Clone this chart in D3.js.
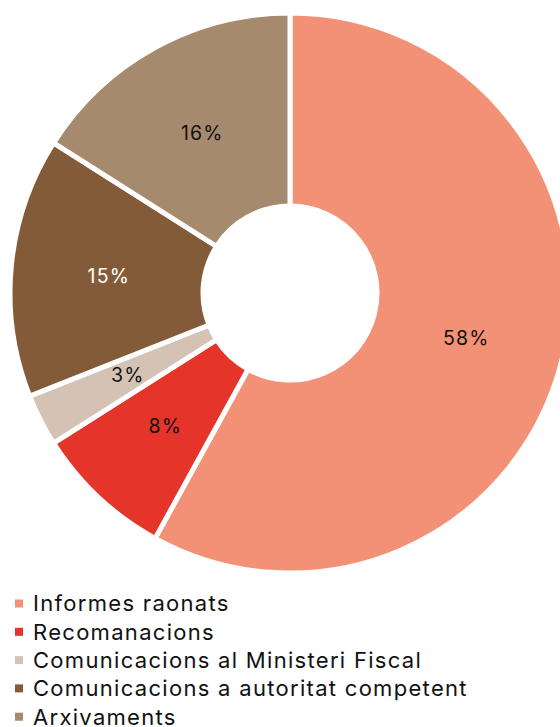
<!DOCTYPE html>
<html><head><meta charset="utf-8">
<script src="https://cdn.jsdelivr.net/npm/d3@7"></script>
<style>html,body{margin:0;padding:0;background:#fff;overflow:hidden}</style>
</head><body>
<script>
const categories = ["Informes raonats","Recomanacions","Comunicacions al Ministeri Fiscal","Comunicacions a autoritat competent","Arxivaments"];
const values = [58, 8, 3, 15, 16];
const colors = ["#F39177","#E5352A","#D4C3B5","#835B38","#A68A6E"];
const labelColors = ["#111","#111","#111","#fff","#111"];

const W = 560, H = 727;
const cx = 290, cy = 293, R = 280, r0 = 87;
const font = "Inter, 'Noto Sans', sans-serif";

const svg = d3.select("body").append("svg").attr("width", W).attr("height", H);
const pie = d3.pie().sort(null).value(d => d)(values);
const arc = d3.arc().innerRadius(r0).outerRadius(R);
const labelArc = d3.arc().innerRadius(182).outerRadius(182);

const g = svg.append("g").attr("transform", `translate(${cx},${cy})`);
g.selectAll("path").data(pie).join("path")
  .attr("d", arc).attr("fill", (d,i) => colors[i])
  .attr("stroke", "#fff").attr("stroke-width", 5).attr("stroke-linejoin","miter");

g.selectAll("text").data(pie).join("text")
  .attr("transform", d => `translate(${labelArc.centroid(d)})`)
  .attr("text-anchor","middle").attr("dy","0.35em")
  .attr("font-family", font).attr("font-size", 19.5)
  .attr("letter-spacing", 1.2)
  .attr("fill", (d,i) => labelColors[i])
  .text(d => d.data + "%");

const leg = svg.append("g");
const rows = leg.selectAll("g").data(categories).join("g")
  .attr("transform", (d,i) => `translate(0,${603.5 + i*28.3})`);
rows.append("rect").attr("x", 15).attr("y", -4).attr("width", 8).attr("height", 8)
  .attr("fill", (d,i) => colors[i]);
rows.append("text").attr("x", 33).attr("y", 0).attr("dy","0.36em")
  .attr("font-family", font).attr("font-size", 22).attr("letter-spacing", 1.3).attr("fill","#111")
  .text(d => d);
</script>
</body></html>
